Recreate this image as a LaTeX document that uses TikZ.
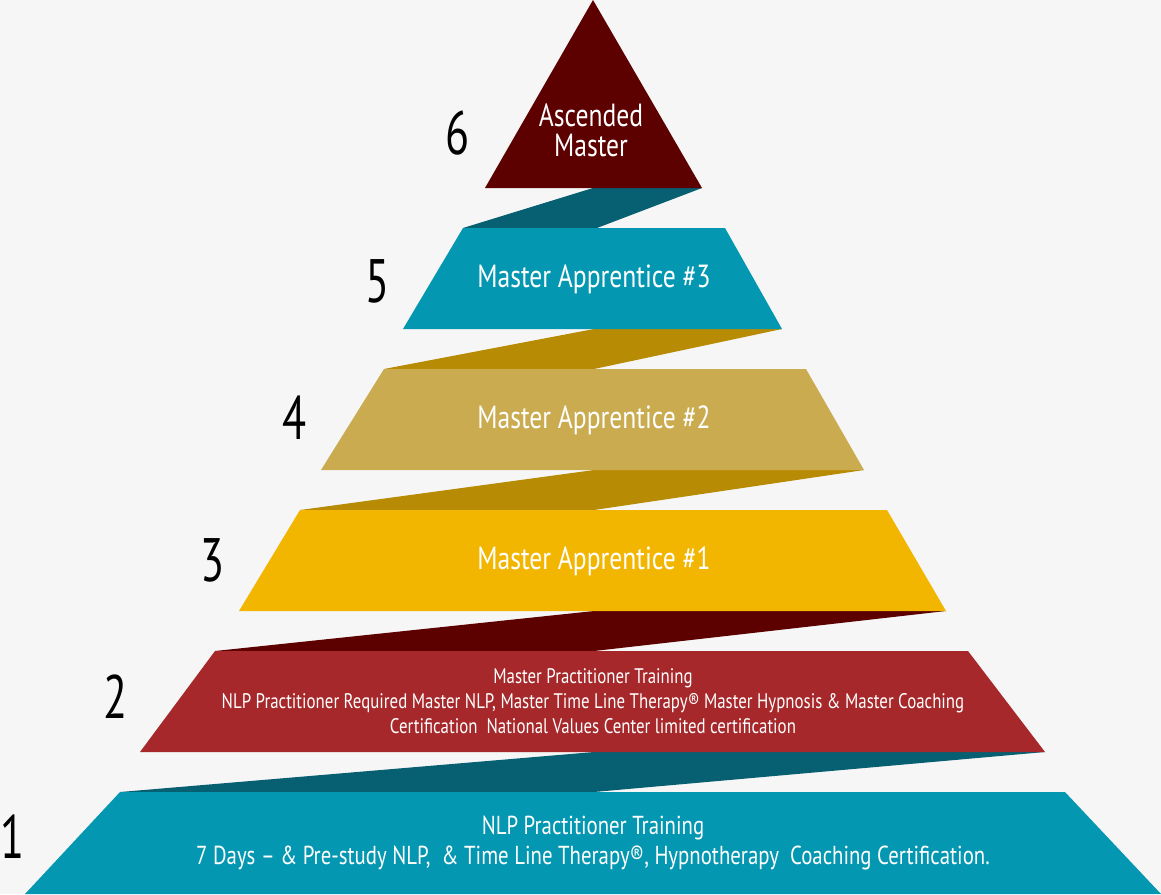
\documentclass[tikz,border=0pt]{standalone}
\usepackage{fontspec}
\setmainfont[FakeStretch=0.8]{PT Sans}
\newfontfamily\numfont[FakeStretch=0.72]{PT Sans}

\definecolor{bgray}{HTML}{F6F6F6}
\definecolor{maroon}{HTML}{5C0000}
\definecolor{teal}{HTML}{0497B1}
\definecolor{darkteal}{HTML}{075F72}
\definecolor{tan}{HTML}{CAAB4F}
\definecolor{darkgold}{HTML}{B78B03}
\definecolor{gold}{HTML}{F2B600}
\definecolor{brick}{HTML}{A6282B}

\begin{document}
\begin{tikzpicture}[x=0.75pt, y=-0.75pt,
		label/.style={text=white, align=center, font=\fontsize{24}{22.5}\selectfont},
		small/.style={text=white, align=center, font=\fontsize{15.8}{18.75}\selectfont},
		num/.style={text=black, font=\numfont\fontsize{46}{46}\selectfont}]
	\fill[bgray] (0,0) rectangle (1161,894);
	\useasboundingbox (0,0) rectangle (1161,894);

	% ribbons behind the tiers
	\fill[darkteal] (593,188) -- (702,188) -- (597,228) -- (463,228) -- cycle;
	\fill[darkgold] (594,329) -- (782,329) -- (594,369) -- (384,369) -- cycle;
	\fill[darkgold] (594,470) -- (864,470) -- (594,510) -- (300,510) -- cycle;
	\fill[maroon] (594,611) -- (946,611) -- (594,651) -- (215,651) -- cycle;
	\fill[darkteal] (594,752) -- (1045,752) -- (594,792) -- (120,792) -- cycle;

	% tiers
	\fill[maroon] (593,0) -- (702,188) -- (485,188) -- cycle;
	\fill[teal] (463,228) -- (725,228) -- (782,329) -- (403,329) -- cycle;
	\fill[tan] (384,369) -- (806,369) -- (864,470) -- (321,470) -- cycle;
	\fill[gold] (300,510) -- (887,510) -- (946,611) -- (239,611) -- cycle;
	\fill[brick] (215,651) -- (968,651) -- (1045,752) -- (140,752) -- cycle;
	\fill[teal] (120,792) -- (1065,792) -- (1161,894) -- (25,894) -- cycle;

	\node[label] (T6) at (591,130) {Ascended\\Master};
	\node[label] (T5) at (594,279) {Master Apprentice \#3};
	\node[label] (T4) at (594,420) {Master Apprentice \#2};
	\node[label] (T3) at (594,561) {Master Apprentice \#1};
	\node[small] (T2) at (593,701) {Master Practitioner Training\\
		NLP Practitioner Required Master NLP, Master Time Line Therapy\textregistered{} Master Hypnosis \& Master Coaching\\
		Certification\ \ National Values Center limited certification};
	\node[small, font=\fontsize{19.5}{22}\selectfont] (T1) at (593,843) {NLP Practitioner Training\\
		7 Days -- \& Pre-study NLP,\ \ \& Time Line Therapy\textregistered, Hypnotherapy\ \ Coaching Certification.};

	\node[num] (N6) at (458,133) {6};
	\node[num] (N5) at (378,281) {5};
	\node[num] (N4) at (295,418) {4};
	\node[num] (N3) at (213,560) {3};
	\node[num] (N2) at (116,697) {2};
	\node[num] (N1) at (13,837) {1};
\end{tikzpicture}
\end{document}
